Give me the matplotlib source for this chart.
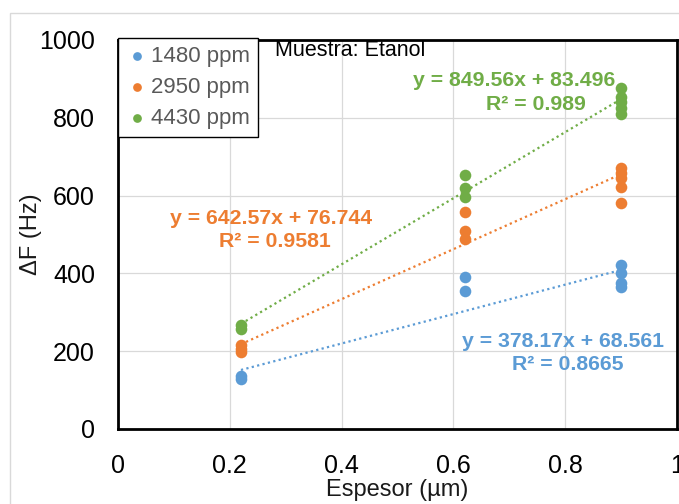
import matplotlib
matplotlib.use("Agg")
import matplotlib.pyplot as plt
from matplotlib.patches import Rectangle
import numpy as np

plt.rcParams['font.family'] = ['Liberation Sans', 'DejaVu Sans']

# espesor (um) y respuesta (Hz) para cada concentracion
x_1480 = [0.22, 0.22, 0.62, 0.62, 0.9, 0.9, 0.9, 0.9]
y_1480 = [135, 128, 391, 355, 421, 401, 375, 365]
x_2950 = [0.22, 0.22, 0.22, 0.62, 0.62, 0.62, 0.9, 0.9, 0.9, 0.9, 0.9]
y_2950 = [215, 205, 198, 558, 509, 488, 670, 658, 645, 622, 581]
x_4430 = [0.22, 0.22, 0.62, 0.62, 0.62, 0.9, 0.9, 0.9, 0.9, 0.9]
y_4430 = [268, 258, 653, 619, 596, 876, 853, 840, 826, 810]

labels = ['1480 ppm', '2950 ppm', '4430 ppm']
slopes = [378.17, 642.57, 849.56]
intercepts = [68.561, 76.744, 83.496]
r2 = ['0.8665', '0.9581', '0.989']
colors = ['#5B9BD5', '#ED7D31', '#70AD47']

fig = plt.figure(figsize=(6.79, 5.04), dpi=100)
ax = fig.add_axes([118 / 679, 1 - 429 / 504, 559 / 679, 389 / 504])

# borde exterior del area del grafico
fig.patches.append(Rectangle((10 / 679, -0.1), 1.2, 1 - 13 / 504 + 0.1,
                             transform=fig.transFigure, fill=False,
                             edgecolor='#d9d9d9', lw=1))

xs = [x_1480, x_2950, x_4430]
ys = [y_1480, y_2950, y_4430]
for xv, yv, lab, c in zip(xs, ys, labels, colors):
    ax.scatter(xv, yv, s=70, color=c, label=lab, zorder=3, linewidths=0)

# lineas de tendencia
xt = np.array([0.22, 0.9])
for m, b, c in zip(slopes, intercepts, colors):
    ax.plot(xt, m * xt + b, linestyle=(0, (1, 1.5)), color=c, lw=1.6, zorder=2)

# ecuaciones
eq_pos = [((0.796, 226), (0.805, 165)),
          ((0.274, 542), (0.281, 481)),
          ((0.708, 895), (0.748, 833))]
for (p1, p2), m, b, r, c in zip(eq_pos, slopes, intercepts, r2, colors):
    ax.text(p1[0], p1[1], 'y = %.2fx + %s' % (m, repr(b)), color=c,
            fontsize=15.3, fontweight='bold', ha='center', va='center', zorder=4)
    ax.text(p2[0], p2[1], 'R² = ' + r, color=c,
            fontsize=15.3, fontweight='bold', ha='center', va='center', zorder=4)

ax.text(0.281, 972, 'Muestra: Etanol', fontsize=15.5, color='black',
        ha='left', va='center')

ax.set_xlim(0, 1)
ax.set_ylim(0, 1000)
ax.set_xticks([0, 0.2, 0.4, 0.6, 0.8, 1])
ax.set_xticklabels(['0', '0.2', '0.4', '0.6', '0.8', '1'])
ax.set_yticks([0, 200, 400, 600, 800, 1000])
ax.grid(True, color='#d9d9d9', lw=0.9)
ax.set_axisbelow(True)
ax.tick_params(axis='y', length=0, labelsize=18, pad=16.5)
ax.tick_params(axis='x', length=0, labelsize=18, pad=18)
for sp in ax.spines.values():
    sp.set_linewidth(2)
    sp.set_color('black')

ax.set_xlabel('Espesor (µm)', fontsize=17, labelpad=1, color='#1a1a1a')
ax.set_ylabel('ΔF (Hz)', fontsize=17, labelpad=-2, color='#1a1a1a')

leg = ax.legend(loc='upper left', bbox_to_anchor=(0, 1.005), borderaxespad=0,
                fontsize=16, markerscale=0.75, handletextpad=0.15,
                handlelength=1.0, labelspacing=0.45, borderpad=0.35,
                fancybox=False, framealpha=1)
leg.get_frame().set_edgecolor('black')
leg.get_frame().set_linewidth(1)
for t in leg.get_texts():
    t.set_color('#595959')

fig.savefig('out.png', dpi=100)
